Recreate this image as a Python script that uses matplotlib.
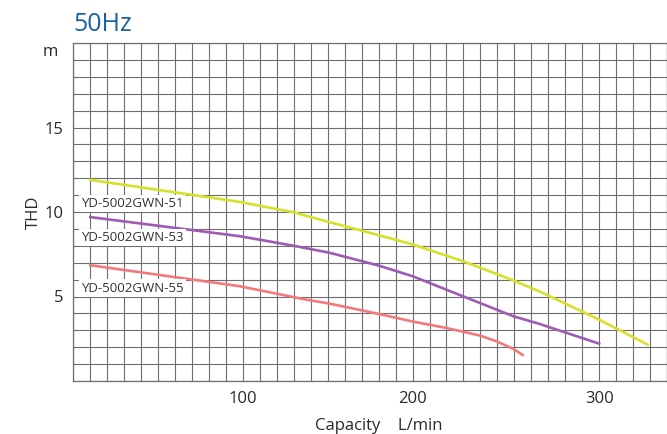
import numpy as np
import matplotlib
matplotlib.use("Agg")
import matplotlib.pyplot as plt
from matplotlib.ticker import FixedLocator

plt.rcParams["font.family"] = ["Open Sans", "DejaVu Sans"]

# capacity L/min vs head m
flow_51 = [10, 98, 129, 151, 180, 200, 227, 253, 268, 280, 300, 326]
head_51 = [11.9, 10.6, 10.0, 9.4, 8.63, 8.08, 7.09, 6.0, 5.3, 4.68, 3.63, 2.15]

flow_53 = [10, 98, 129, 151, 180, 200, 218, 236, 254, 268, 280, 300]
head_53 = [9.7, 8.57, 8.02, 7.59, 6.83, 6.2, 5.41, 4.62, 3.83, 3.38, 2.94, 2.21]

flow_55 = [10, 98, 137, 151, 180, 200, 218, 227, 236, 245, 254, 259]
head_55 = [6.85, 5.61, 4.82, 4.58, 3.97, 3.52, 3.14, 2.92, 2.69, 2.35, 1.9, 1.54]

models = ["YD-5002GWN-51", "YD-5002GWN-53", "YD-5002GWN-55"]
xticks = [100, 200, 300]
yticks = [5, 10, 15]

# the printed axis is not uniform: 100 and 200 sit 10 cells apart, 300 sits 11 cells past 200
cells_at = [0, 10, 20, 31, 42]
flow_at = [0, 100, 200, 300, 400]


def fwd(v):
    return np.interp(v, flow_at, cells_at)


def inv(v):
    return np.interp(v, cells_at, flow_at)


fig = plt.figure(figsize=(6.67, 4.34), dpi=100)
ax = fig.add_axes([73.3 / 667, 53 / 434, 593.7 / 667, 338 / 434])
ax.set_xscale("function", functions=(fwd, inv))
ax.set_xlim(0, inv(35))
ax.set_ylim(0, 20)

gridc = "#6e6e6e"
ax.xaxis.set_major_locator(FixedLocator(xticks))
ax.xaxis.set_minor_locator(FixedLocator(inv(np.arange(36))))
ax.yaxis.set_major_locator(FixedLocator(yticks))
ax.yaxis.set_minor_locator(FixedLocator(np.arange(21)))
ax.grid(which="both", color=gridc, linewidth=0.8)
ax.set_axisbelow(True)
for s in ax.spines.values():
    s.set_color(gridc)
    s.set_linewidth(0.9)
    s.set_zorder(5)
ax.tick_params(which="both", length=0, labelsize=12, colors="#2a2a2a", pad=7)

ax.plot(flow_51, head_51, color="#d6e12c", lw=1.9)
ax.plot(flow_53, head_53, color="#9e5bb3", lw=1.9)
ax.plot(flow_55, head_55, color="#f27a7c", lw=1.9)

box = dict(facecolor="white", edgecolor="none", pad=1.5)
ax.text(4.5, 10.3, models[0], fontsize=9.5, color="#333333", va="baseline", bbox=box)
ax.text(4.5, 8.27, models[1], fontsize=9.5, color="#333333", va="baseline", bbox=box)
ax.text(4.5, 5.29, models[2], fontsize=9.5, color="#333333", va="baseline", bbox=box)

ax.text(-0.025, 19.45, "m", transform=ax.get_yaxis_transform(), ha="right", va="center",
        fontsize=12, color="#2a2a2a")
ax.set_ylabel("THD", fontsize=12, color="#2a2a2a", labelpad=2)
ax.set_xlabel("Capacity    L/min", fontsize=12, color="#2a2a2a", labelpad=8)
ax.xaxis.label.set_x(0.515)

fig.text(73 / 667, 1 - 31 / 434, "50Hz", fontsize=18, color="#1c62a0", va="baseline")

fig.savefig("out.png", dpi=100)
